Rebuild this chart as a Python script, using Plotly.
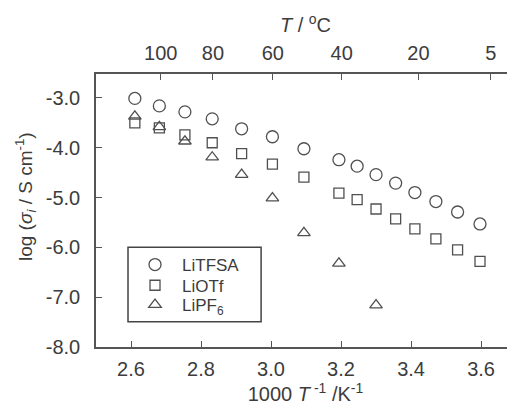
import plotly.graph_objects as go

# ---- data ----
x_inv_T = [2.611, 2.681, 2.754, 2.832, 2.916, 3.004, 3.094, 3.194, 3.246, 3.300,
           3.356, 3.411, 3.471, 3.533, 3.597]
litfsa = [-3.01, -3.16, -3.28, -3.42, -3.62, -3.78, -4.02, -4.24, -4.37, -4.54,
          -4.71, -4.90, -5.08, -5.29, -5.53]
liotf = [-3.50, -3.60, -3.74, -3.90, -4.12, -4.33, -4.59, -4.91, -5.04, -5.23,
         -5.43, -5.63, -5.83, -6.05, -6.28]
x_lipf6 = [2.611, 2.681, 2.754, 2.832, 2.916, 3.004, 3.094, 3.194, 3.300]
lipf6 = [-3.37, -3.58, -3.87, -4.19, -4.54, -5.01, -5.71, -6.32, -7.16]

series_names = ["LiTFSA", "LiOTf", "LiPF<sub>6</sub>"]

bottom_ticks = [2.6, 2.8, 3.0, 3.2, 3.4, 3.6]
bottom_ticklabels = ["2.6", "2.8", "3.0", "3.2", "3.4", "3.6"]
left_ticks = [-3, -4, -5, -6, -7, -8]
left_ticklabels = ["-3.0", "-4.0", "-5.0", "-6.0", "-7.0", "-8.0"]
top_ticklabels = ["100", "80", "60", "40", "20", "5"]
top_tick_pos = [2.685, 2.834, 3.005, 3.202, 3.421, 3.628]

# ---- style ----
FONT = "Liberation Sans, Arial, sans-serif"
TXT = "#3c3c3c"
LINE = "#555555"
MK = "#505050"
XR = [2.5, 3.697]
YR = [-8.0, -2.52]

fig = go.Figure()

fig.add_trace(go.Scatter(x=x_inv_T, y=litfsa, mode="markers", name=series_names[0],
                         legend="legend",
                         marker=dict(symbol="circle-open", size=12, color=MK,
                                     line=dict(width=1.3))))
fig.add_trace(go.Scatter(x=x_inv_T, y=liotf, mode="markers", name=series_names[1],
                         legend="legend2",
                         marker=dict(symbol="square-open", size=10, color=MK,
                                     line=dict(width=1.3))))
fig.add_trace(go.Scatter(x=x_lipf6, y=lipf6, mode="markers", name=series_names[2],
                         legend="legend3",
                         marker=dict(symbol="triangle-up-open", size=11, color=MK,
                                     line=dict(width=1.3))))
# invisible helper trace for the top and right axes
fig.add_trace(go.Scatter(x=[XR[0]], y=[YR[0]], xaxis="x2", yaxis="y2", mode="markers",
                         marker=dict(opacity=0), showlegend=False, hoverinfo="skip"))

axis_font = dict(family=FONT, size=20, color=TXT)

def legend_at(y):
    return dict(x=0.0764, y=y, xanchor="left", yanchor="middle",
                bgcolor="rgba(0,0,0,0)", borderwidth=0,
                font=dict(family=FONT, size=17, color=TXT),
                itemwidth=44, tracegroupgap=0)

# the page body has an 8px default margin, so margins are shifted by 8px
fig.update_layout(
    width=515, height=409,
    margin=dict(l=88, r=8, t=66, b=70),
    paper_bgcolor="white", plot_bgcolor="white",
    font=dict(family=FONT, color=TXT),
    xaxis=dict(range=XR, tickvals=bottom_ticks, ticktext=bottom_ticklabels,
               ticks="inside", ticklen=6, tickwidth=1.3, tickcolor=LINE,
               showline=True, linecolor=LINE, linewidth=1.5, showgrid=False, zeroline=False,
               tickfont=axis_font, automargin=False, ticklabelstandoff=3,
               title=dict(text="1000 <i>T</i><sup> -1</sup> /K<sup>-1</sup>",
                          font=dict(family=FONT, size=20, color=TXT), standoff=3)),
    yaxis=dict(range=YR, tickvals=left_ticks, ticktext=left_ticklabels,
               ticks="inside", ticklen=6, tickwidth=1.3, tickcolor=LINE,
               showline=True, linecolor=LINE, linewidth=1.5, showgrid=False, zeroline=False,
               tickfont=axis_font, ticklabelstandoff=10, automargin=False),
    xaxis2=dict(range=XR, overlaying="x", side="top", anchor="y",
                tickvals=top_tick_pos, ticktext=top_ticklabels,
                ticks="inside", ticklen=6, tickwidth=1.3, tickcolor=LINE,
                showline=True, linecolor=LINE, linewidth=1.5, showgrid=False, zeroline=False,
                tickfont=axis_font, automargin=False, ticklabelstandoff=4,
                title=dict(text="<i>T</i> / <sup>o</sup>C",
                           font=dict(family=FONT, size=20, color=TXT), standoff=4)),
    yaxis2=dict(range=YR, overlaying="y", side="right", anchor="x",
                tickvals=left_ticks, showticklabels=False, automargin=False,
                ticks="inside", ticklen=6, tickwidth=1.3, tickcolor=LINE,
                showline=False, showgrid=False, zeroline=False),
    legend=legend_at(0.3004),
    legend2=legend_at(0.2245),
    legend3=legend_at(0.1538),
    showlegend=True,
    shapes=[dict(type="rect", xref="paper", yref="paper",
                 x0=0.0764, x1=0.394, y0=0.0927, y1=0.365,
                 line=dict(color="#444444", width=1.5), fillcolor="white", layer="below")],
    annotations=[dict(text="log (<i>σ<sub>i</sub></i> / S cm<sup>-1</sup>)",
                      textangle=-90, xref="paper", yref="paper", x=-0.1695, y=0.553,
                      xanchor="center", yanchor="middle", showarrow=False,
                      font=dict(family=FONT, size=19, color=TXT))],
)

fig.write_html("out.html")
